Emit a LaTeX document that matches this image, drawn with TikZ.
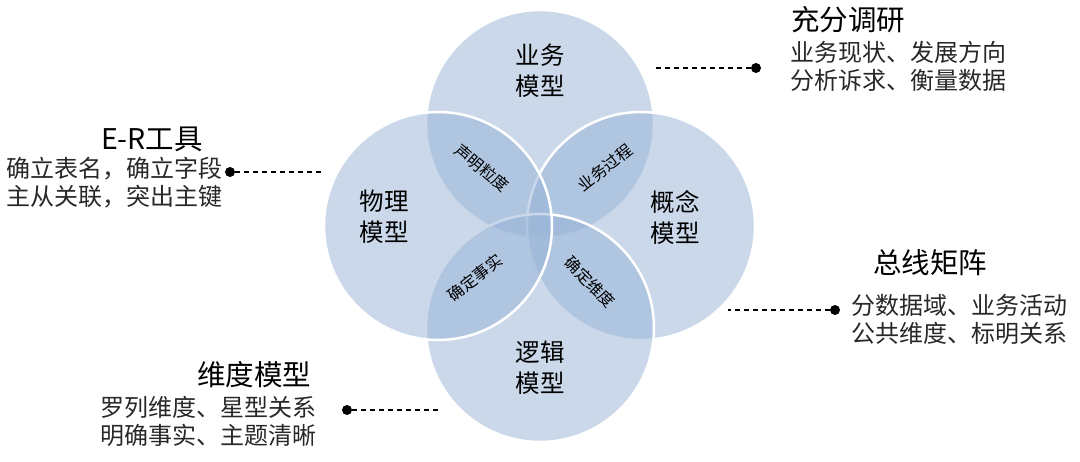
\documentclass[tikz,border=0pt]{standalone}
\usepackage{fontspec}
\setmainfont{Noto Sans CJK SC}
\usetikzlibrary{positioning}
\definecolor{venn}{RGB}{150,178,214}
\definecolor{notegray}{RGB}{40,40,40}

\begin{document}
\begin{tikzpicture}[x=1pt,y=-1pt,
  disc/.style={fill=venn,fill opacity=0.5,draw=white,line width=2.5pt},
  model/.style={align=center,font=\fontsize{24.5}{31}\selectfont,inner sep=0pt},
  overlap/.style={font=\fontsize{16}{18}\selectfont,inner sep=0pt},
  head/.style={anchor=west,font=\fontsize{28.5}{30}\selectfont,inner sep=0pt},
  note/.style={anchor=west,align=left,font=\fontsize{24}{28}\selectfont,inner sep=0pt,text=notegray},
  pin/.style={circle,fill=black,inner sep=0pt,minimum size=10pt},
  lead/.style={draw,dash pattern=on 5pt off 4pt,line width=1.1pt}]

  \useasboundingbox (0,0) rectangle (1080,462);

  \path [disc] (540,124) circle [radius=114];
  \path [disc] (641,226) circle [radius=114];
  \path [disc] (540,328) circle [radius=114];
  \path [disc] (438,226) circle [radius=114];

  \node [model] (business) at (540,71) {业务\\模型};
  \node [model] (physical) at (384,217) {物理\\模型};
  \node [model] (concept) at (675,217) {概念\\模型};
  \node [model] (logical) at (540,368) {逻辑\\模型};

  \node [overlap,rotate=-40] (grain) at (482,168) {声明粒度};
  \node [overlap,rotate=38] (process) at (605,168) {业务过程};
  \node [overlap,rotate=38] (fact) at (475,278) {确定事实};
  \node [overlap,rotate=-45] (dimension) at (590,282) {确定维度};

  \node [head] (research) at (791,20) {充分调研};
  \node [note] (research_txt) at (790,66) {业务现状、发展方向\\分析诉求、衡量数据};
  \node [pin] (research_pin) at (756,68) {};
  \coordinate (research_end) at (655,68);

  \node [head] (er) at (101,139) {E-R工具};
  \node [note] (er_txt) at (6,183) {确立表名，确立字段\\主从关联，突出主键};
  \node [pin] (er_pin) at (230,172) {};
  \coordinate (er_end) at (325,172);

  \node [head] (bus) at (873,263) {总线矩阵};
  \node [note] (bus_txt) at (851,319) {分数据域、业务活动\\公共维度、标明关系};
  \node [pin] (bus_pin) at (835,310) {};
  \coordinate (bus_end) at (728,310);

  \node [head] (dim) at (197,375) {维度模型};
  \node [note] (dim_txt) at (100,421) {罗列维度、星型关系\\明确事实、主题清晰};
  \node [pin] (dim_pin) at (347,410) {};
  \coordinate (dim_end) at (440,410);

  \path [lead]
    (research_pin) -- (research_end)
    (er_pin) -- (er_end)
    (bus_pin) -- (bus_end)
    (dim_pin) -- (dim_end);

\end{tikzpicture}
\end{document}
